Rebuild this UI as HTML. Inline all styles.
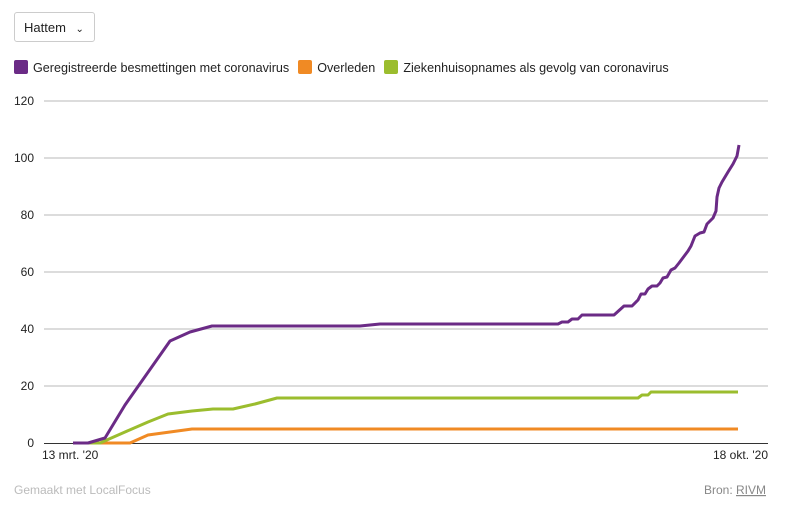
<!DOCTYPE html>
<html><head><meta charset="utf-8"><style>
body{margin:0;background:#fff;font-family:"Liberation Sans",sans-serif;}
.wrap{position:relative;width:797px;height:519px;overflow:hidden}
.sel{position:absolute;left:14px;top:12px;width:81px;height:30px;border:1px solid #ccc;border-radius:3px;font-size:13px;color:#222;line-height:29px;padding-left:9px;box-sizing:border-box}
.leg{position:absolute;top:60px;left:14px;font-size:12.6px;color:#222;white-space:nowrap}
.leg span.sw{display:inline-block;width:14px;height:14px;border-radius:2px;vertical-align:-2px;margin-right:5px}
.leg span.it{margin-right:9px}
</style></head><body><div class="wrap">
<div class="sel">Hattem <span style="font-size:10px;margin-left:6px">&#8964;</span></div>
<div class="leg"><span class="it"><span class="sw" style="background:#6b2b86"></span>Geregistreerde besmettingen met coronavirus</span><span class="it"><span class="sw" style="background:#f08a24"></span>Overleden</span><span class="it"><span class="sw" style="background:#9bbd2e"></span>Ziekenhuisopnames als gevolg van coronavirus</span></div>
<svg width="797" height="519" style="position:absolute;left:0;top:0">
<g stroke="#d0d0d0" stroke-width="1.5">
<line x1="44" x2="768" y1="101" y2="101"/><line x1="44" x2="768" y1="158" y2="158"/><line x1="44" x2="768" y1="215" y2="215"/><line x1="44" x2="768" y1="272" y2="272"/><line x1="44" x2="768" y1="329" y2="329"/><line x1="44" x2="768" y1="386" y2="386"/>
</g>
<line x1="44" x2="768" y1="443.5" y2="443.5" stroke="#333" stroke-width="1"/>
<g font-size="12" fill="#222" text-anchor="end">
<text x="34" y="105">120</text><text x="34" y="162">100</text><text x="34" y="219">80</text><text x="34" y="276">60</text><text x="34" y="333">40</text><text x="34" y="390">20</text><text x="34" y="447">0</text>
</g>
<text x="42" y="459" font-size="12" fill="#222">13 mrt. '20</text>
<text x="768" y="459" font-size="12" fill="#222" text-anchor="end">18 okt. '20</text>
<g fill="none" stroke-width="3" stroke-linejoin="round">
<polyline stroke="#f08a24" points="73,443 112,443 130,443 148,435 192,429 738,429"/>
<polyline stroke="#9bbd2e" points="73,443 100,443 125,432 148,422 168,414 192,411 213,409 233,409 255,404 277,398 638,398 642,395 648,395 651,392 738,392"/>
<polyline stroke="#6b2b86" points="73,443 88,443 105,438 125,405 170,341 190,332 212,326 360,326 380,324 558,324 562,322 568,322 572,319 578,319 582,315 614,315 624,306 632,306 638,300 641,294 645,294 648,289 652,286 657,286 660,283 663,278 667,277 671,270 675,268 679,263 682,259 685,255 688,251 691,246 695,236 700,233 704,232 707,224 713,218 716,211 717,197 719,188 722,182 728,172 733,164 737,156 739,145"/>
</g>
<text x="14" y="494" font-size="12" fill="#bbb">Gemaakt met LocalFocus</text>
<text x="766" y="494" font-size="12" fill="#888" text-anchor="end">Bron: <tspan text-decoration="underline">RIVM</tspan></text>
</svg>
</div></body></html>
